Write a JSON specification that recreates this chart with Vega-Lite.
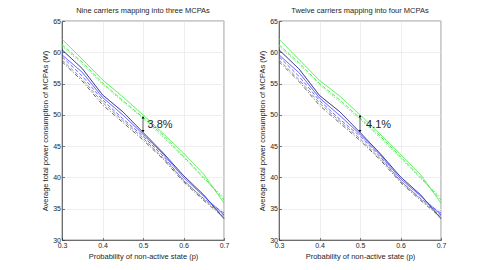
{
  "$schema": "https://vega.github.io/schema/vega-lite/v6.json",
  "padding": {"left": 41, "top": 6, "right": 5, "bottom": 5},
  "spacing": 28,
  "config": {
    "font": "Liberation Sans",
    "view": {"stroke": "#262626", "strokeWidth": 0.6},
    "axis": {
      "grid": true, "gridColor": "#e6e6e6", "gridWidth": 0.7,
      "domainColor": "#262626", "domainWidth": 0.6,
      "tickColor": "#262626", "tickSize": -2.5, "tickWidth": 0.6,
      "labelColor": "#262626", "labelFontSize": 7, "labelPadding": 4, "labelOverlap": false, "labelBound": false, "labelFlush": false,
      "titleColor": "#262626", "titleFontSize": 7.5, "titleFontWeight": "normal"
    },
    "title": {"fontSize": 7.5, "fontWeight": "normal", "color": "#262626", "offset": 3}
  },
  "datasets": {
    "nine": [
      {"p":0.3,"s":"G1","v":62.1},{"p":0.35,"s":"G1","v":58.9},{"p":0.4,"s":"G1","v":55.6},{"p":0.45,"s":"G1","v":52.9},{"p":0.5,"s":"G1","v":50.0},{"p":0.55,"s":"G1","v":47.0},{"p":0.6,"s":"G1","v":43.9},{"p":0.65,"s":"G1","v":40.5},{"p":0.7,"s":"G1","v":35.9},
      {"p":0.3,"s":"G2","v":61.2},{"p":0.35,"s":"G2","v":58.4},{"p":0.4,"s":"G2","v":55.1},{"p":0.45,"s":"G2","v":52.3},{"p":0.5,"s":"G2","v":49.6},{"p":0.55,"s":"G2","v":46.7},{"p":0.6,"s":"G2","v":43.4},{"p":0.65,"s":"G2","v":40.0},{"p":0.7,"s":"G2","v":36.4},
      {"p":0.3,"s":"G3","v":61.0},{"p":0.35,"s":"G3","v":58.1},{"p":0.4,"s":"G3","v":54.9},{"p":0.45,"s":"G3","v":52.1},{"p":0.5,"s":"G3","v":49.4},{"p":0.55,"s":"G3","v":46.4},{"p":0.6,"s":"G3","v":43.2},{"p":0.65,"s":"G3","v":39.8},{"p":0.7,"s":"G3","v":36.8},
      {"p":0.3,"s":"N","v":60.4},{"p":0.35,"s":"N","v":57.4},{"p":0.4,"s":"N","v":53.2},{"p":0.45,"s":"N","v":50.5},{"p":0.5,"s":"N","v":47.2},{"p":0.55,"s":"N","v":43.9},{"p":0.6,"s":"N","v":40.3},{"p":0.65,"s":"N","v":37.2},{"p":0.7,"s":"N","v":33.4},
      {"p":0.3,"s":"B1","v":59.6},{"p":0.35,"s":"B1","v":56.8},{"p":0.4,"s":"B1","v":52.8},{"p":0.45,"s":"B1","v":50.0},{"p":0.5,"s":"B1","v":46.9},{"p":0.55,"s":"B1","v":43.7},{"p":0.6,"s":"B1","v":40.0},{"p":0.65,"s":"B1","v":37.0},{"p":0.7,"s":"B1","v":34.0},
      {"p":0.3,"s":"B2","v":59.3},{"p":0.35,"s":"B2","v":56.2},{"p":0.4,"s":"B2","v":52.4},{"p":0.45,"s":"B2","v":49.4},{"p":0.5,"s":"B2","v":46.6},{"p":0.55,"s":"B2","v":43.4},{"p":0.6,"s":"B2","v":39.5},{"p":0.65,"s":"B2","v":36.6},{"p":0.7,"s":"B2","v":34.3},
      {"p":0.3,"s":"K1","v":58.8},{"p":0.35,"s":"K1","v":55.7},{"p":0.4,"s":"K1","v":52.0},{"p":0.45,"s":"K1","v":49.1},{"p":0.5,"s":"K1","v":46.3},{"p":0.55,"s":"K1","v":43.1},{"p":0.6,"s":"K1","v":39.6},{"p":0.65,"s":"K1","v":36.5},{"p":0.7,"s":"K1","v":33.8},
      {"p":0.3,"s":"K2","v":58.5},{"p":0.35,"s":"K2","v":55.4},{"p":0.4,"s":"K2","v":51.6},{"p":0.45,"s":"K2","v":48.8},{"p":0.5,"s":"K2","v":46.0},{"p":0.55,"s":"K2","v":42.9},{"p":0.6,"s":"K2","v":39.3},{"p":0.65,"s":"K2","v":36.3},{"p":0.7,"s":"K2","v":33.6}
    ],
    "twelve": [
      {"p":0.3,"s":"G1","v":62.1},{"p":0.35,"s":"G1","v":58.8},{"p":0.4,"s":"G1","v":55.5},{"p":0.45,"s":"G1","v":53.0},{"p":0.5,"s":"G1","v":50.0},{"p":0.55,"s":"G1","v":46.9},{"p":0.6,"s":"G1","v":43.7},{"p":0.65,"s":"G1","v":40.4},{"p":0.7,"s":"G1","v":35.9},
      {"p":0.3,"s":"G2","v":61.2},{"p":0.35,"s":"G2","v":58.3},{"p":0.4,"s":"G2","v":55.0},{"p":0.45,"s":"G2","v":52.4},{"p":0.5,"s":"G2","v":49.5},{"p":0.55,"s":"G2","v":46.6},{"p":0.6,"s":"G2","v":43.3},{"p":0.65,"s":"G2","v":40.0},{"p":0.7,"s":"G2","v":36.4},
      {"p":0.3,"s":"G3","v":61.0},{"p":0.35,"s":"G3","v":58.0},{"p":0.4,"s":"G3","v":54.8},{"p":0.45,"s":"G3","v":52.1},{"p":0.5,"s":"G3","v":49.3},{"p":0.55,"s":"G3","v":46.3},{"p":0.6,"s":"G3","v":43.1},{"p":0.65,"s":"G3","v":39.8},{"p":0.7,"s":"G3","v":36.8},
      {"p":0.3,"s":"N","v":60.4},{"p":0.35,"s":"N","v":57.3},{"p":0.4,"s":"N","v":53.1},{"p":0.45,"s":"N","v":50.5},{"p":0.5,"s":"N","v":47.2},{"p":0.55,"s":"N","v":43.8},{"p":0.6,"s":"N","v":40.1},{"p":0.65,"s":"N","v":37.2},{"p":0.7,"s":"N","v":33.4},
      {"p":0.3,"s":"B1","v":59.6},{"p":0.35,"s":"B1","v":56.7},{"p":0.4,"s":"B1","v":52.7},{"p":0.45,"s":"B1","v":49.9},{"p":0.5,"s":"B1","v":46.9},{"p":0.55,"s":"B1","v":43.6},{"p":0.6,"s":"B1","v":39.8},{"p":0.65,"s":"B1","v":37.0},{"p":0.7,"s":"B1","v":34.0},
      {"p":0.3,"s":"B2","v":59.3},{"p":0.35,"s":"B2","v":56.1},{"p":0.4,"s":"B2","v":52.3},{"p":0.45,"s":"B2","v":49.3},{"p":0.5,"s":"B2","v":46.6},{"p":0.55,"s":"B2","v":43.3},{"p":0.6,"s":"B2","v":39.4},{"p":0.65,"s":"B2","v":36.6},{"p":0.7,"s":"B2","v":34.3},
      {"p":0.3,"s":"K1","v":58.8},{"p":0.35,"s":"K1","v":55.6},{"p":0.4,"s":"K1","v":51.9},{"p":0.45,"s":"K1","v":49.0},{"p":0.5,"s":"K1","v":46.2},{"p":0.55,"s":"K1","v":43.0},{"p":0.6,"s":"K1","v":39.5},{"p":0.65,"s":"K1","v":36.5},{"p":0.7,"s":"K1","v":33.8},
      {"p":0.3,"s":"K2","v":58.5},{"p":0.35,"s":"K2","v":55.3},{"p":0.4,"s":"K2","v":51.5},{"p":0.45,"s":"K2","v":48.7},{"p":0.5,"s":"K2","v":45.9},{"p":0.55,"s":"K2","v":42.8},{"p":0.6,"s":"K2","v":39.2},{"p":0.65,"s":"K2","v":36.3},{"p":0.7,"s":"K2","v":33.6}
    ]
  },
  "hconcat": [
    {
      "width": 162, "height": 219,
      "title": "Nine carriers mapping into three MCPAs",
      "encoding": {
        "x": {"field": "p", "type": "quantitative", "scale": {"domain": [0.3, 0.7]}, "axis": {"values": [0.3,0.4,0.5,0.6,0.7], "format": ".1f", "title": "Probability of non-active state (p)"}},
        "y": {"field": "v", "type": "quantitative", "scale": {"domain": [30, 65]}, "axis": {"values": [30,35,40,45,50,55,60,65], "title": "Average total power consumption of MCPAs (W)", "titlePadding": 3}}
      },
      "layer": [
        {
          "data": {"name": "nine"},
          "mark": {"type": "line", "strokeWidth": 0.9},
          "encoding": {
            "color": {"field": "s", "type": "nominal", "legend": null, "scale": {"domain": ["G1","G2","G3","N","B1","B2","K1","K2"], "range": ["#33ee33","#33ee33","#66dd66","#00007a","#3a3aff","#5a5aff","#888888","#555555"]}},
            "strokeDash": {"field": "s", "type": "nominal", "legend": null, "scale": {"domain": ["G1","G2","G3","N","B1","B2","K1","K2"], "range": [[1,0],[4,2],[1,1.5],[1,0],[1,0],[4,2],[4,2],[4,2,1,2]]}}
          }
        },
        {
          "data": {"values": [{"p": 0.5, "v": 47.3, "v2": 49.7}]},
          "mark": {"type": "rule", "color": "#262626", "strokeWidth": 0.7},
          "encoding": {"y2": {"field": "v2"}}
        },
        {
          "data": {"values": [{"p": 0.5, "v": 49.6, "sh": "triangle-up"}, {"p": 0.5, "v": 47.4, "sh": "triangle-down"}]},
          "mark": {"type": "point", "filled": true, "color": "#000000", "size": 8, "opacity": 1},
          "encoding": {"shape": {"field": "sh", "type": "nominal", "scale": null, "legend": null}}
        },
        {
          "data": {"values": [{"p": 0.511, "v": 48.4, "t": "3.8%"}]},
          "mark": {"type": "text", "align": "left", "baseline": "middle", "fontSize": 11, "color": "#262626"},
          "encoding": {"text": {"field": "t"}}
        }
      ]
    },
    {
      "width": 162, "height": 219,
      "title": "Twelve carriers mapping into four MCPAs",
      "encoding": {
        "x": {"field": "p", "type": "quantitative", "scale": {"domain": [0.3, 0.7]}, "axis": {"values": [0.3,0.4,0.5,0.6,0.7], "format": ".1f", "title": "Probability of non-active state (p)"}},
        "y": {"field": "v", "type": "quantitative", "scale": {"domain": [30, 65]}, "axis": {"values": [30,35,40,45,50,55,60,65], "title": "Average total power consumption of MCPAs (W)", "titlePadding": 3}}
      },
      "layer": [
        {
          "data": {"name": "twelve"},
          "mark": {"type": "line", "strokeWidth": 0.9},
          "encoding": {
            "color": {"field": "s", "type": "nominal", "legend": null, "scale": {"domain": ["G1","G2","G3","N","B1","B2","K1","K2"], "range": ["#33ee33","#33ee33","#66dd66","#00007a","#3a3aff","#5a5aff","#888888","#555555"]}},
            "strokeDash": {"field": "s", "type": "nominal", "legend": null, "scale": {"domain": ["G1","G2","G3","N","B1","B2","K1","K2"], "range": [[1,0],[4,2],[1,1.5],[1,0],[1,0],[4,2],[4,2],[4,2,1,2]]}}
          }
        },
        {
          "data": {"values": [{"p": 0.5, "v": 47.3, "v2": 49.9}]},
          "mark": {"type": "rule", "color": "#262626", "strokeWidth": 0.7},
          "encoding": {"y2": {"field": "v2"}}
        },
        {
          "data": {"values": [{"p": 0.5, "v": 49.8, "sh": "triangle-up"}, {"p": 0.5, "v": 47.4, "sh": "triangle-down"}]},
          "mark": {"type": "point", "filled": true, "color": "#000000", "size": 8, "opacity": 1},
          "encoding": {"shape": {"field": "sh", "type": "nominal", "scale": null, "legend": null}}
        },
        {
          "data": {"values": [{"p": 0.515, "v": 48.4, "t": "4.1%"}]},
          "mark": {"type": "text", "align": "left", "baseline": "middle", "fontSize": 11, "color": "#262626"},
          "encoding": {"text": {"field": "t"}}
        }
      ]
    }
  ]
}
